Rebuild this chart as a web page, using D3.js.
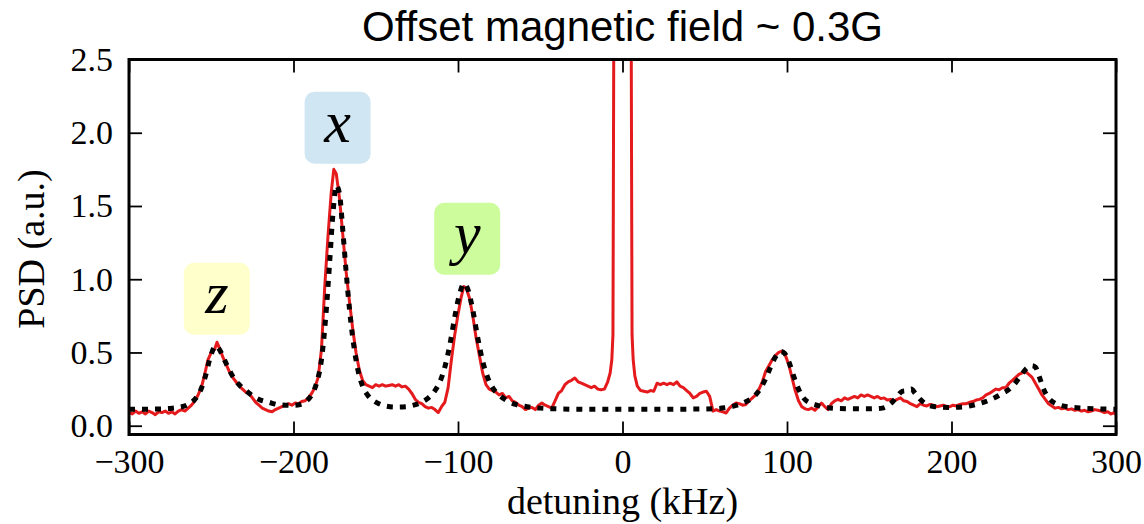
<!DOCTYPE html>
<html>
<head>
<meta charset="utf-8">
<script src="https://cdn.jsdelivr.net/npm/d3@7"></script>
<style>
  html, body { margin: 0; padding: 0; background: #fff; }
  svg { display: block; }
</style>
</head>
<body>
<svg id="chart" width="1144" height="524"></svg>
<script>
// Measured power spectral density (red trace)
const redKHz = [
  -300,-298,-296,-294,-292,-290,-288,-286,-284,-282,-280,-278,-276,-274,-272,-270,-268,-266,-264,-262,
  -260,-258,-256,-254,-252,-250,-248,-246.5,-245,-243,-241,-239,-237,-235,-233,-231,-229,-227,-225,-223,
  -221,-219,-217,-215,-213,-211,-209,-207,-205,-203,-201,-199,-197,-195,-193,-191,-189,-187,-185,-183,
  -181,-179,-177,-175.5,-174,-172,-170,-168,-166,-164,-162,-160,-158,-156,-154,-152,-150,-148,-146,-144,
  -142,-140,-138,-136,-134,-132,-130,-128,-126,-124,-122,-120,-118,-116,-114,-112,-110,-108,-106,-104,
  -102,-100,-98,-96.5,-95,-93,-91,-89,-87,-85,-83,-81,-79,-77,-75,-73,-71,-69,-67,-65,
  -63,-61,-59,-57,-55,-53,-51,-49,-47,-45,-43,-41,-39,-37,-35,-33,-31,-29,-27,-25,
  -23,-21,-19,-17,-15,-13,-11,-9,-7.5,-6.5,-5.8,-3,0,3,5.8,6.5,7.5,9,11,13,
  15,17,19,21,23,25,27,29,31,33,35,37,39,41,43,45,47,49,51,53,
  55,57,59,61,63,65,67,69,71,73,75,77,79,81,83,85,87,89,91,93,
  95,97,99,101,103,105,107,109,111,113,115,117,119,121,123,125,127,129,131,133,
  135,137,139,141,143,145,147,149,151,153,155,157,159,161,163,165,167,169,171,173,
  175,177,179,181,183,185,187,189,191,193,195,197,199,201,203,205,207,209,211,213,
  215,217,219,221,223,225,227,229,231,233,235,237,239,241,243,245,247,249,251,253,
  255,257,259,261,263,265,267,269,271,273,275,277,279,281,283,285,287,289,291,293,
  295,297,299,300
];
const redPSD = [
  0.09,0.08,0.10,0.085,0.095,0.08,0.10,0.09,0.075,0.095,0.09,0.10,0.085,0.095,0.08,0.10,0.11,0.10,0.12,0.14,
  0.17,0.21,0.26,0.35,0.45,0.50,0.52,0.57,0.53,0.47,0.42,0.37,0.33,0.30,0.27,0.25,0.23,0.22,0.19,0.16,
  0.14,0.12,0.11,0.10,0.095,0.11,0.12,0.13,0.14,0.15,0.14,0.155,0.15,0.165,0.17,0.19,0.22,0.26,0.33,0.52,
  0.95,1.30,1.60,1.75,1.72,1.55,1.30,1.05,0.85,0.66,0.50,0.38,0.31,0.28,0.27,0.26,0.28,0.27,0.28,0.27,
  0.275,0.28,0.27,0.28,0.265,0.27,0.25,0.22,0.18,0.16,0.15,0.13,0.12,0.125,0.11,0.09,0.13,0.16,0.26,0.45,
  0.62,0.76,0.88,0.95,0.94,0.87,0.75,0.60,0.48,0.36,0.28,0.25,0.24,0.23,0.21,0.22,0.19,0.20,0.17,0.16,
  0.14,0.13,0.11,0.12,0.125,0.11,0.14,0.155,0.14,0.13,0.12,0.17,0.22,0.24,0.28,0.30,0.31,0.325,0.30,0.29,
  0.28,0.27,0.26,0.27,0.25,0.245,0.25,0.30,0.36,0.45,0.62,12,20,12,0.62,0.45,0.34,0.27,0.24,0.235,
  0.23,0.24,0.235,0.29,0.28,0.29,0.28,0.29,0.28,0.30,0.27,0.26,0.24,0.22,0.19,0.20,0.22,0.23,0.235,0.20,
  0.10,0.11,0.10,0.095,0.087,0.12,0.14,0.155,0.15,0.14,0.145,0.17,0.19,0.21,0.25,0.30,0.37,0.41,0.45,0.48,
  0.50,0.51,0.48,0.42,0.33,0.24,0.17,0.13,0.115,0.11,0.12,0.105,0.13,0.155,0.13,0.11,0.15,0.17,0.18,0.17,
  0.19,0.18,0.19,0.20,0.19,0.21,0.20,0.21,0.20,0.19,0.20,0.185,0.19,0.175,0.18,0.17,0.18,0.19,0.17,0.165,
  0.15,0.14,0.13,0.15,0.14,0.135,0.145,0.14,0.13,0.135,0.14,0.13,0.13,0.14,0.135,0.145,0.15,0.15,0.16,0.165,
  0.175,0.18,0.19,0.21,0.22,0.235,0.25,0.245,0.26,0.26,0.29,0.31,0.33,0.35,0.36,0.37,0.35,0.33,0.29,0.25,
  0.21,0.18,0.15,0.135,0.12,0.125,0.115,0.12,0.11,0.115,0.105,0.11,0.10,0.105,0.095,0.10,0.11,0.105,0.10,0.09,
  0.095,0.08,0.09,0.075
];

// Multi-peak fit (black dotted trace)
const fitKHz = [
  -300,-290,-280,-275,-270,-265,-260,-257,-254,-251,-248.5,-247,-245,-242,-239,-236,-233,-229,-225,-220,
  -215,-210,-205,-200,-196,-192,-189,-186,-183,-180,-178,-176,-174,-172,-170,-168,-166,-164,-162,-160,
  -158,-155,-152,-148,-144,-138,-132,-127,-122,-118,-114,-111,-108,-105,-102,-99,-96.5,-94,-91,-88,
  -85,-82,-79,-75,-70,-65,-58,-50,-40,-20,0,20,40,55,62,68,74,79,83,87,
  90,93,96,98,101,104,107,110,114,118,124,132,150,158,163,167,170,173,175.5,178,
  181,185,190,200,207,213,218,222,226,230,234,238,242,245.5,249,251,253.5,256,259,262,
  266,272,280,290,300
];
const fitPSD = [
  0.112,0.113,0.115,0.118,0.125,0.14,0.18,0.23,0.32,0.45,0.53,0.545,0.52,0.45,0.38,0.32,0.28,0.24,0.205,0.175,
  0.16,0.145,0.14,0.14,0.145,0.17,0.21,0.29,0.45,0.80,1.12,1.45,1.64,1.58,1.33,1.05,0.80,0.60,0.45,0.34,
  0.27,0.21,0.175,0.15,0.135,0.128,0.13,0.14,0.16,0.19,0.24,0.30,0.40,0.55,0.74,0.90,0.97,0.93,0.79,0.60,
  0.44,0.33,0.26,0.21,0.17,0.145,0.13,0.12,0.115,0.112,0.112,0.112,0.113,0.116,0.122,0.135,0.16,0.19,0.24,0.32,
  0.40,0.47,0.505,0.50,0.44,0.34,0.25,0.19,0.155,0.14,0.125,0.117,0.115,0.12,0.15,0.20,0.235,0.24,0.25,0.22,
  0.18,0.145,0.13,0.125,0.128,0.14,0.155,0.17,0.19,0.215,0.24,0.28,0.34,0.39,0.41,0.40,0.33,0.25,0.19,0.16,
  0.14,0.127,0.12,0.115,0.112
];

// Peak annotations
const peakNames = ["z", "x", "y"];
const peakKHz = [-246.6, -173.2, -94.4];
const peakLabelPSD = [0.867, 2.034, 1.276];
const peakFill = ["#ffffcc", "#d0e6f3", "#cdfc9c"];

// Axis ticks
const xTicks = [-300, -200, -100, 0, 100, 200, 300];
const yTicks = [0.0, 0.5, 1.0, 1.5, 2.0, 2.5];

const svg = d3.select("#chart");
const plotLeft = 129, plotRight = 1116, plotTop = 59.5, plotBottom = 434.5;

const x = d3.scaleLinear().domain([-300, 300]).range([plotLeft, plotRight]);
const y = d3.scaleLinear().domain([-0.06, 2.5]).range([plotBottom, plotTop]);

const serif = "'Liberation Serif', 'Times New Roman', serif";

// clip region for the traces
svg.append("defs").append("clipPath").attr("id", "plot-clip")
  .append("rect").attr("x", plotLeft).attr("y", plotTop)
  .attr("width", plotRight - plotLeft).attr("height", plotBottom - plotTop);

const plot = svg.append("g").attr("clip-path", "url(#plot-clip)");

const redData = redKHz.map((k, i) => [k, redPSD[i]]);
const fitData = fitKHz.map((k, i) => [k, fitPSD[i]]);

plot.append("path")
  .datum(redData)
  .attr("fill", "none")
  .attr("stroke", "#e41a1c")
  .attr("stroke-width", 3)
  .attr("stroke-linejoin", "round")
  .attr("d", d3.line().x(d => x(d[0])).y(d => y(d[1])));

plot.append("path")
  .datum(fitData)
  .attr("fill", "none")
  .attr("stroke", "#000")
  .attr("stroke-width", 5)
  .attr("stroke-dasharray", "6 7")
  .attr("d", d3.line().curve(d3.curveMonotoneX).x(d => x(d[0])).y(d => y(d[1])));

// Axes with inward ticks on all four sides
function styleAxis(g) {
  g.select(".domain").remove();
  g.selectAll(".tick line").attr("stroke", "#000").attr("stroke-width", 1.8);
  g.selectAll(".tick text").attr("fill", "#000")
    .style("font-family", serif).style("font-size", "34px");
}

svg.append("g").attr("transform", `translate(0,${plotBottom})`)
  .call(d3.axisBottom(x).tickValues(xTicks).tickSizeInner(-13).tickSizeOuter(0).tickPadding(14)
    .tickFormat(d3.format("d")))
  .call(styleAxis);

svg.append("g").attr("transform", `translate(0,${plotTop})`)
  .call(d3.axisTop(x).tickValues(xTicks).tickSizeInner(-13).tickSizeOuter(0).tickFormat(""))
  .call(styleAxis);

svg.append("g").attr("transform", `translate(${plotLeft},0)`)
  .call(d3.axisLeft(y).tickValues(yTicks).tickSizeInner(-13).tickSizeOuter(0).tickPadding(16)
    .tickFormat(d3.format(".1f")))
  .call(styleAxis);

svg.append("g").attr("transform", `translate(${plotRight},0)`)
  .call(d3.axisRight(y).tickValues(yTicks).tickSizeInner(-13).tickSizeOuter(0).tickFormat(""))
  .call(styleAxis);

// frame
svg.append("rect")
  .attr("x", plotLeft).attr("y", plotTop)
  .attr("width", plotRight - plotLeft).attr("height", plotBottom - plotTop)
  .attr("fill", "none").attr("stroke", "#000").attr("stroke-width", 3);

// peak labels in rounded boxes
const boxW = 66, boxH = 72;
const labels = svg.append("g");
peakNames.forEach((name, i) => {
  const cx = x(peakKHz[i]), cy = y(peakLabelPSD[i]);
  labels.append("rect")
    .attr("x", cx - boxW / 2).attr("y", cy - boxH / 2)
    .attr("width", boxW).attr("height", boxH)
    .attr("rx", 10).attr("ry", 10)
    .attr("fill", peakFill[i]);
  labels.append("text")
    .attr("x", cx).attr("y", cy + 14)
    .attr("text-anchor", "middle")
    .style("font-family", serif).style("font-style", "italic").style("font-size", "60px")
    .text(name);
});

// titles
svg.append("text")
  .attr("x", (plotLeft + plotRight) / 2).attr("y", 41)
  .attr("text-anchor", "middle")
  .style("font-family", "'Liberation Sans', Arial, sans-serif").style("font-size", "42px")
  .text("Offset magnetic field ~ 0.3G");

svg.append("text")
  .attr("x", (plotLeft + plotRight) / 2).attr("y", 514)
  .attr("text-anchor", "middle")
  .style("font-family", serif).style("font-size", "38px")
  .text("detuning (kHz)");

svg.append("text")
  .attr("transform", `translate(44,${(plotTop + plotBottom) / 2 + 2}) rotate(-90)`)
  .attr("text-anchor", "middle")
  .style("font-family", serif).style("font-size", "38px")
  .text("PSD (a.u.)");
</script>
</body>
</html>
